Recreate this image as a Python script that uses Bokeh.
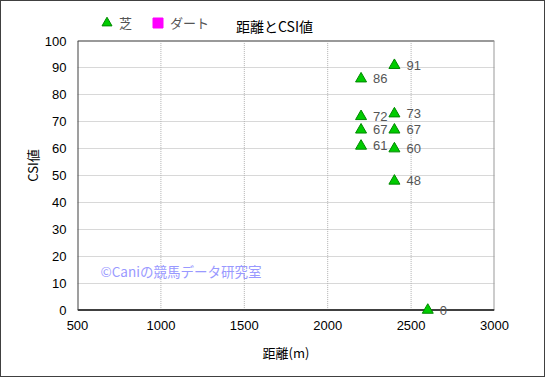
from bokeh.plotting import figure
from bokeh.models import ColumnDataSource, Range1d, Legend, LegendItem, Label, LabelSet, FixedTicker
from bokeh.core.properties import value
from bokeh.embed import file_html
from bokeh.resources import INLINE

# data
turf_dist = [2200, 2400, 2200, 2400, 2200, 2400, 2200, 2400, 2400, 2600]
turf_csi = [86, 91, 72, 73, 67, 67, 61, 60, 48, 0]
dirt_dist = [float("nan")]   # no dirt races in this chart
dirt_csi = [float("nan")]
x_ticks = [500, 1000, 1500, 2000, 2500, 3000]
y_ticks = [0, 10, 20, 30, 40, 50, 60, 70, 80, 90, 100]

JP = "Noto Sans CJK JP"
NUM = "Liberation Sans"
X0, X1 = x_ticks[0], x_ticks[-1]
Y0, Y1 = y_ticks[0], y_ticks[-1]

p = figure(width=545, height=377, output_backend="svg", toolbar_location=None,
           x_range=Range1d(X0, X1), y_range=Range1d(Y0 - 3.5, Y1 + 11),
           min_border_left=76, min_border_right=52, min_border_top=10, min_border_bottom=59)
p.styles = {"border": "1px solid #404040", "box-sizing": "border-box"}
p.outline_line_color = None
p.background_fill_color = "white"
p.border_fill_color = "white"

for ax in (p.xaxis[0], p.yaxis[0]):
    ax.axis_line_color = None
    ax.major_tick_line_color = None
    ax.minor_tick_line_color = None
    ax.major_label_text_font = NUM
    ax.major_label_text_font_size = "13px"
    ax.major_label_text_color = "#000000"
    ax.axis_label_text_font = JP
    ax.axis_label_text_font_size = "13px"
    ax.axis_label_text_font_style = "normal"
    ax.axis_label_text_color = "#000000"

p.xaxis.ticker = FixedTicker(ticks=x_ticks)
p.yaxis.ticker = FixedTicker(ticks=y_ticks)
p.xaxis.major_label_standoff = -5
p.yaxis.major_label_standoff = 5
p.xaxis.axis_label = "距離(m)"
p.yaxis.axis_label = "CSI値"
p.xaxis.axis_label_standoff = 10
p.yaxis.axis_label_standoff = 0

p.xgrid.visible = False
p.ygrid.ticker = FixedTicker(ticks=y_ticks[1:-1])
p.ygrid.grid_line_color = "#b0b0b0"
p.ygrid.grid_line_dash = "1 1"

n_in = len(x_ticks) - 2
# vertical grid lines between y=0 and y=100
p.segment(x0=x_ticks[1:-1], y0=[Y0] * n_in, x1=x_ticks[1:-1], y1=[Y1] * n_in,
          line_color="#b0b0b0", line_dash="1 1", line_width=1)
# frame: top/right light, left/bottom dark
p.segment(x0=[X0, X1], y0=[Y1, Y0], x1=[X1, X1], y1=[Y1, Y1], line_color="#999999", line_width=2)
p.segment(x0=[X0, X0], y0=[Y0, Y0], x1=[X0, X1], y1=[Y1, Y0], line_color="#404040", line_width=2)

src = ColumnDataSource(dict(x=turf_dist, y=turf_csi, t=[str(v) for v in turf_csi]))
dsrc = ColumnDataSource(dict(x=dirt_dist, y=dirt_csi))

wm = Label(x=23, y=49, x_units="screen", y_units="screen",
           text="©Caniの競馬データ研究室", text_font=JP, text_font_size="13.5px",
           text_color="#9999ff", text_baseline="middle")
p.add_layout(wm)

r1 = p.scatter("x", "y", source=src, marker="triangle", size=11,
               fill_color="#00cc00", line_color="#008800", line_width=1)
r2 = p.scatter("x", "y", source=dsrc, marker="square", size=9,
               fill_color="#ff00ff", line_color="#ff00ff")

labels = LabelSet(x="x", y="y", text="t", source=src, x_offset=12, y_offset=0,
                  text_font=value(NUM), text_font_size=value("13px"), text_color="#555555",
                  text_baseline="middle")
p.add_layout(labels)

legend = Legend(items=[LegendItem(label="芝", renderers=[r1]),
                       LegendItem(label="ダート", renderers=[r2])],
                orientation="horizontal", location=(17, 284),
                background_fill_alpha=0, border_line_color=None,
                label_text_font=JP, label_text_font_size="13px", label_text_color="#555555",
                glyph_width=25, glyph_height=25, spacing=6, padding=0, margin=0,
                label_standoff=0, label_height=25)
p.add_layout(legend)

title = Label(x=197, y=294, x_units="screen", y_units="screen", text="距離とCSI値",
              text_font=JP, text_font_size="14px", text_color="#000000",
              text_align="center", text_baseline="middle")
p.add_layout(title)

open("out.html", "w").write(file_html(p, INLINE))
